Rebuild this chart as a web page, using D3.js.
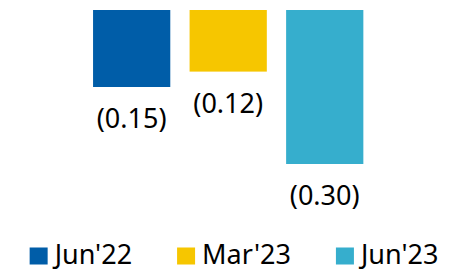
<!DOCTYPE html>
<html>
<head>
    <meta charset="utf-8" />
    <script src="https://d3js.org/d3.v7.min.js"></script>
    <style>
        body { margin: 0; background: #fff; }
        text { font-family: "Noto Sans", sans-serif; fill: #000; }
    </style>
</head>
<body>
<div id="chart"></div>
<script type="text/javascript">
    var categories = ["Jun'22", "Mar'23", "Jun'23"];
    var values = [-0.15, -0.12, -0.30];
    var labels = ["(0.15)", "(0.12)", "(0.30)"];
    var colors = ["#005DA8", "#F6C600", "#36AECD"];

    var width = 472, height = 272;

    var svg = d3.select("#chart").append("svg")
        .attr("width", width)
        .attr("height", height);

    var x = d3.scaleBand()
        .domain(categories)
        .range([83.4, 373])
        .paddingInner(0.2)
        .paddingOuter(0.1);

    var y = d3.scaleLinear()
        .domain([0, -0.30])
        .range([10, 164]);

    svg.selectAll(".bar")
        .data(categories)
        .enter().append("rect")
        .attr("class", "bar")
        .attr("x", function(d) { return x(d); })
        .attr("width", x.bandwidth())
        .attr("y", y(0))
        .attr("height", function(d, i) { return y(values[i]) - y(0); })
        .attr("fill", function(d, i) { return colors[i]; });

    svg.selectAll(".lbl")
        .data(categories)
        .enter().append("text")
        .attr("class", "lbl")
        .attr("x", function(d) { return x(d) + x.bandwidth() / 2; })
        .attr("y", function(d, i) { return y(values[i]) + 41; })
        .attr("text-anchor", "middle")
        .style("font-size", "27px")
        .text(function(d, i) { return labels[i]; });

    // legend
    var legend = svg.append("g");
    var pos = 0;
    categories.forEach(function(c, i) {
        var g = legend.append("g").attr("transform", "translate(" + pos + ",0)");
        g.append("rect")
            .attr("x", 0).attr("y", 247.5)
            .attr("width", 18).attr("height", 17)
            .attr("fill", colors[i]);
        var t = g.append("text")
            .attr("x", 25).attr("y", 264)
            .style("font-size", "27px")
            .text(c);
        pos += 25 + t.node().getComputedTextLength() + 45;
    });
    var lw = pos - 45;
    legend.attr("transform", "translate(" + ((width - lw) / 2 - 2) + ",0)");
</script>
</body>
</html>
